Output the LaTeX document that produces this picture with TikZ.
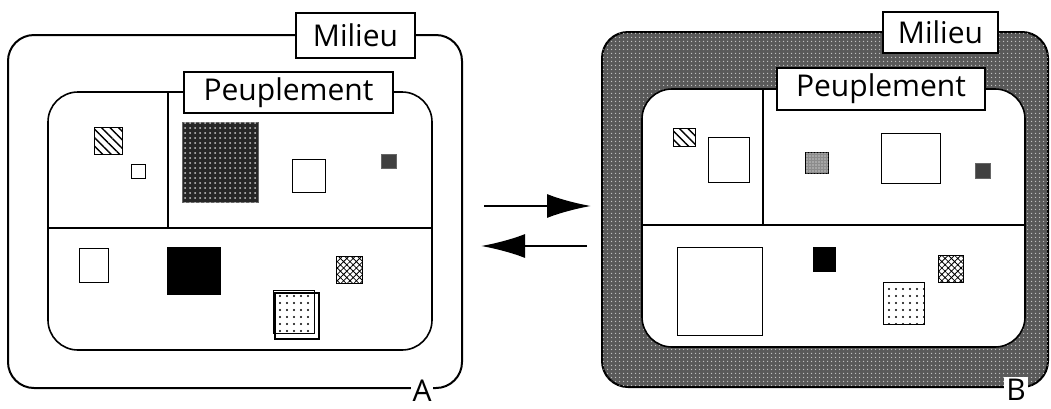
\documentclass[tikz,border=0pt]{standalone}
\usepackage{fontspec}
\setmainfont{Open Sans}
\usetikzlibrary{arrows.meta,positioning,patterns.meta,calc}

\tikzset{
  panel/.style={draw, line width=2pt, rounded corners=26pt, inner sep=0pt},
  pop/.style={draw, fill=white, line width=1.6pt, rounded corners=30pt, inner sep=0pt},
  tagbox/.style={draw, fill=white, line width=1.8pt, inner sep=2pt, font=\fontsize{30}{34}\selectfont},
  letter/.style={fill=white, inner sep=2pt, font=\fontsize{30}{34}\selectfont},
  sq/.style={draw, line width=1pt, fill=white},
  noisy/.style={fill=black!85, postaction={pattern={Dots[distance=5pt,radius=1pt]}, pattern color=white!80!black}},
  hatch/.style={sq, pattern={Lines[angle=-45,distance=6pt,line width=1.4pt]}},
  cross/.style={sq, pattern={Hatch[angle=45,distance=4.5pt,line width=0.8pt]}},
  dots/.style={sq, pattern={Dots[distance=7pt,radius=1.2pt]}},
  flow/.style={line width=2.6pt, -{Latex[length=44pt,width=24pt]}}
}

\begin{document}
\begin{tikzpicture}[x=1pt,y=-1pt]
  \useasboundingbox (0,0) rectangle (1051,408);

  % A : milieu homogene
  \node[panel, minimum width=454, minimum height=353] (outerA) at (235,211.5) {};
  \node[pop, minimum width=384, minimum height=258] (innerA) at (240,221) {};
  \coordinate (hA) at (0,228);
  \coordinate (vA) at (168,228);
  \draw[line width=1.4pt] (innerA.west |- hA) -- (innerA.east |- hA);
  \draw[line width=1.2pt] (vA) -- (vA |- innerA.north);
  \node[tagbox, minimum width=119, minimum height=45] (milA) at (355.5,35.5) {Milieu};
  \node[tagbox, minimum width=209, minimum height=41] (popA) at (288.5,92.5) {Peuplement};
  \node[letter] (labA) at (422,391) {A};

  \draw[hatch] (94,127) rectangle (122,154);
  \draw[sq] (131,164) rectangle (145,178);
  \draw[noisy, draw=black!60, line width=1pt] (182,122) rectangle (258,202);
  \draw[sq] (292,159) rectangle (325,192);
  \draw[fill=black!75, draw=black!60] (381,154) rectangle (396,168);
  \draw[sq] (79,248) rectangle (108,282);
  \fill[black] (167,247) rectangle (221,295);
  \draw[cross] (336,256) rectangle (362,283);
  \draw[sq, line width=1.6pt] (275,293) rectangle (319,339);
  \draw[dots] (273,290) rectangle (314,333);

  % B : milieu modifie
  \node[panel, minimum width=446, minimum height=355, fill=black!65,
        postaction={pattern={Dots[distance=4pt,radius=0.9pt]}, pattern color=white!75!black}] (outerB) at (825,209.5) {};
  \node[pop, minimum width=383, minimum height=258] (innerB) at (833.5,218) {};
  \coordinate (hB) at (0,225);
  \coordinate (vB) at (763,225);
  \draw[line width=1.4pt] (innerB.west |- hB) -- (innerB.east |- hB);
  \draw[line width=1.2pt] (vB) -- (vB |- innerB.north);
  \node[tagbox, minimum width=115, minimum height=41] (milB) at (940.5,32.5) {Milieu};
  \node[tagbox, minimum width=208, minimum height=42] (popB) at (881,89) {Peuplement};
  \node[letter] (labB) at (1016,390) {B};

  \draw[hatch] (673,128) rectangle (695,146);
  \draw[sq] (708,137) rectangle (749,182);
  \draw[sq, fill=black!45, postaction={pattern={Dots[distance=3pt,radius=0.7pt]}, pattern color=white}] (805,152) rectangle (828,173);
  \draw[sq] (881,133) rectangle (940,183);
  \draw[fill=black!75, draw=black!60] (975,163) rectangle (990,178);
  \draw[sq] (677,247) rectangle (762,335);
  \fill[black] (813,247) rectangle (836,272);
  \draw[cross] (938,255) rectangle (963,282);
  \draw[dots] (883,282) rectangle (924,324);

  % echanges
  \coordinate (up) at (0,206);
  \coordinate (down) at (0,246);
  \draw[flow, shorten <=21pt, shorten >=10pt] (outerA.east |- up) -- (outerB.west |- up);
  \draw[flow, shorten <=14pt, shorten >=18pt] (outerB.west |- down) -- (outerA.east |- down);
\end{tikzpicture}
\end{document}
